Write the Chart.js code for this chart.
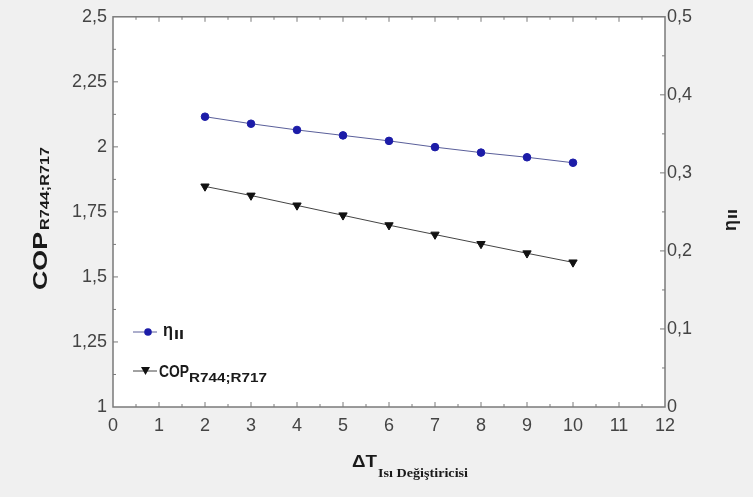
<!DOCTYPE html>
<html>
<head>
<meta charset="utf-8">
<script src="https://cdn.jsdelivr.net/npm/chart.js@4/dist/chart.umd.min.js"></script>
<style>
  html, body { margin: 0; padding: 0; background: #f0f0f0; }
  #wrap { width: 753px; height: 497px; }
</style>
</head>
<body>
<div id="wrap"><canvas id="graph" width="753" height="497"></canvas></div>
<script>
// values
const deltaT = [2, 3, 4, 5, 6, 7, 8, 9, 10];
const etaII = [0.372, 0.363, 0.355, 0.348, 0.341, 0.333, 0.326, 0.320, 0.313];
const copR744R717 = [1.848, 1.813, 1.775, 1.737, 1.699, 1.663, 1.627, 1.591, 1.556];

const xTicks = [0, 1, 2, 3, 4, 5, 6, 7, 8, 9, 10, 11, 12];
const copTicks = [1, 1.25, 1.5, 1.75, 2, 2.25, 2.5];
const etaTicks = [0, 0.1, 0.2, 0.3, 0.4, 0.5];

const axisGrey = '#7a7a7a';
const labelGrey = '#444444';

function commaLabel(v) {
    return String(Number(v.toFixed(3))).replace('.', ',');
}

// draws text squeezed/stretched to a given width
function fitText(ctx, text, x, y, font, width) {
    ctx.font = font;
    const w = ctx.measureText(text).width;
    ctx.save();
    ctx.translate(x, y);
    ctx.scale(width / w, 1);
    ctx.fillText(text, 0, 0);
    ctx.restore();
    return width;
}

const framePlugin = {
    id: 'frame',
    beforeDraw(chart) {
        const ctx = chart.ctx;
        const a = chart.chartArea;
        ctx.save();
        ctx.fillStyle = '#f0f0f0';
        ctx.fillRect(0, 0, chart.width, chart.height);
        ctx.fillStyle = '#ffffff';
        ctx.fillRect(a.left, a.top, a.right - a.left, a.bottom - a.top);
        ctx.restore();
    },
    afterDraw(chart) {
        const ctx = chart.ctx;
        const a = chart.chartArea;
        const x = chart.scales.x, y = chart.scales.y, y2 = chart.scales.y2;
        ctx.save();
        ctx.strokeStyle = axisGrey;
        ctx.lineWidth = 1.5;
        ctx.strokeRect(a.left, a.top, a.right - a.left, a.bottom - a.top);

        ctx.lineWidth = 1;
        ctx.beginPath();
        // x ticks, bottom and top
        for (let v = 0.5; v < 12; v += 0.5) {
            const px = x.getPixelForValue(v);
            const len = (v % 1 === 0) ? 5 : 3;
            ctx.moveTo(px, a.bottom); ctx.lineTo(px, a.bottom - len);
            ctx.moveTo(px, a.top); ctx.lineTo(px, a.top + len);
        }
        // left ticks
        for (let v = 1.125; v < 2.5; v += 0.125) {
            const py = y.getPixelForValue(v);
            const len = (Math.abs(v * 4 - Math.round(v * 4)) < 1e-6) ? 5 : 3;
            ctx.moveTo(a.left, py); ctx.lineTo(a.left + len, py);
        }
        // right ticks
        for (let i = 1; i < 10; i++) {
            const py = y2.getPixelForValue(i * 0.05);
            const len = (i % 2 === 0) ? 5 : 3;
            ctx.moveTo(a.right, py); ctx.lineTo(a.right - len, py);
        }
        ctx.stroke();

        // legend
        ctx.textBaseline = 'alphabetic';
        ctx.strokeStyle = '#5a5f9a';
        ctx.lineWidth = 1;
        ctx.beginPath(); ctx.moveTo(133, 332); ctx.lineTo(157, 332); ctx.stroke();
        ctx.fillStyle = '#1c1ca8';
        ctx.beginPath(); ctx.arc(148, 332, 3.8, 0, Math.PI * 2); ctx.fill();
        ctx.fillStyle = '#1a1a1a';
        fitText(ctx, 'η', 163, 336, 'bold 18px "Liberation Sans", Arial', 10);
        fitText(ctx, 'II', 174, 339, 'bold 12px "Liberation Sans", Arial', 10);

        ctx.strokeStyle = '#444';
        ctx.beginPath(); ctx.moveTo(133, 371); ctx.lineTo(157, 371); ctx.stroke();
        ctx.fillStyle = '#111';
        ctx.beginPath(); ctx.moveTo(141, 367); ctx.lineTo(150, 367); ctx.lineTo(145.5, 375); ctx.closePath(); ctx.fill();
        ctx.fillStyle = '#1a1a1a';
        fitText(ctx, 'COP', 159, 377, 'bold 17px "Liberation Sans", Arial', 30);
        fitText(ctx, 'R744;R717', 189, 382, 'bold 13px "Liberation Sans", Arial', 78);

        // x title
        fitText(ctx, 'ΔT', 352, 467, 'bold 17px "Liberation Sans", Arial', 25);
        fitText(ctx, 'Isı Değiştiricisi', 378, 477, 'bold 12px "Liberation Serif", "Times New Roman"', 90);

        // left title
        ctx.save();
        ctx.translate(47, 290);
        ctx.rotate(-Math.PI / 2);
        fitText(ctx, 'COP', 0, 0, 'bold 21px "Liberation Sans", Arial', 58);
        fitText(ctx, 'R744;R717', 60, 2, 'bold 13px "Liberation Sans", Arial', 83);
        ctx.restore();

        // right title
        ctx.save();
        ctx.translate(736, 231);
        ctx.rotate(-Math.PI / 2);
        fitText(ctx, 'η', 0, 0, 'bold 18px "Liberation Sans", Arial', 11);
        fitText(ctx, 'II', 12, 1, 'bold 12px "Liberation Sans", Arial', 10);
        ctx.restore();

        ctx.restore();
    }
};

const ctx = document.getElementById('graph').getContext('2d');
new Chart(ctx, {
    type: 'line',
    data: {
        datasets: [{
            label: 'ηII',
            data: deltaT.map((t, i) => ({ x: t, y: etaII[i] })),
            yAxisID: 'y2',
            borderColor: '#5a5f9a',
            borderWidth: 1,
            pointBackgroundColor: '#1c1ca8',
            pointBorderColor: '#1c1ca8',
            pointRadius: 3.8,
            pointStyle: 'circle',
            tension: 0
        }, {
            label: 'COP R744;R717',
            data: deltaT.map((t, i) => ({ x: t, y: copR744R717[i] })),
            yAxisID: 'y',
            borderColor: '#444444',
            borderWidth: 1,
            pointBackgroundColor: '#111111',
            pointBorderColor: '#111111',
            pointRadius: 4.8,
            pointStyle: 'triangle',
            pointRotation: 180,
            tension: 0
        }]
    },
    options: {
        responsive: false,
        animation: false,
        layout: { padding: { top: 16 } },
        plugins: { legend: { display: false }, tooltip: { enabled: false } },
        scales: {
            x: {
                type: 'linear',
                min: 0, max: 12,
                afterBuildTicks: s => { s.ticks = xTicks.map(v => ({ value: v })); },
                afterFit: s => { s.height = 90; },
                grid: { display: false, drawTicks: false },
                border: { display: false },
                ticks: {
                    padding: 8,
                    color: labelGrey,
                    font: { family: '"Liberation Sans", Arial', size: 18 },
                    callback: v => commaLabel(v)
                }
            },
            y: {
                position: 'left',
                min: 1, max: 2.5,
                afterBuildTicks: s => { s.ticks = copTicks.map(v => ({ value: v })); },
                afterFit: s => { s.width = 113; },
                grid: { display: false, drawTicks: false },
                border: { display: false },
                ticks: {
                    padding: 6,
                    color: labelGrey,
                    font: { family: '"Liberation Sans", Arial', size: 18 },
                    callback: v => commaLabel(v)
                }
            },
            y2: {
                position: 'right',
                min: 0, max: 0.5,
                afterBuildTicks: s => { s.ticks = etaTicks.map(v => ({ value: v })); },
                afterFit: s => { s.width = 88; },
                grid: { display: false, drawTicks: false },
                border: { display: false },
                ticks: {
                    padding: 2,
                    color: labelGrey,
                    font: { family: '"Liberation Sans", Arial', size: 18 },
                    callback: v => commaLabel(v)
                }
            }
        }
    },
    plugins: [framePlugin]
});
</script>
</body>
</html>
